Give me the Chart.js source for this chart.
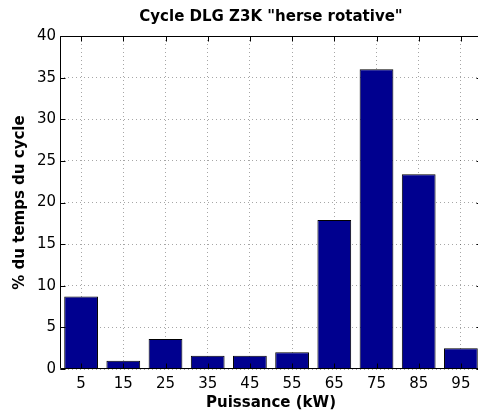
<!DOCTYPE html>
<html>
<head>
<meta charset="utf-8">
<script src="https://cdn.jsdelivr.net/npm/chart.js@4"></script>
<style>
  html, body { margin: 0; padding: 0; overflow: hidden; background: #fff; }
</style>
</head>
<body>
<canvas id="cycleChart" width="483" height="416"></canvas>
<script>
// Power classes (kW) and share of cycle time (%)
const powerLabels = ['5', '15', '25', '35', '45', '55', '65', '75', '85', '95'];
const cycleShare = [8.7, 1.0, 3.6, 1.6, 1.6, 2.0, 17.9, 36.0, 23.4, 2.5];
const yTicks = [0, 5, 10, 15, 20, 25, 30, 35, 40];

Chart.defaults.font.family = '"DejaVu Sans", sans-serif';
Chart.defaults.color = '#000';

// axes box with inward tick marks, drawn on top of the bars
const axesBox = {
    id: 'axesBox',
    afterDraw(chart) {
        const ctx = chart.ctx;
        const a = chart.chartArea;
        const xs = chart.scales.x;
        const ys = chart.scales.y;
        const L = Math.round(a.left) + 0.5, R = Math.round(a.right) - 0.5;
        const T = Math.round(a.top) + 0.5, B = Math.round(a.bottom) - 0.5;
        ctx.save();
        ctx.strokeStyle = '#000';
        ctx.lineWidth = 1;
        ctx.beginPath();
        ctx.rect(L, T, R - L, B - T);
        xs.ticks.forEach((t, i) => {
            const px = Math.round(xs.getPixelForTick(i)) + 0.5;
            ctx.moveTo(px, B); ctx.lineTo(px, B - 5);
            ctx.moveTo(px, T); ctx.lineTo(px, T + 5);
        });
        yTicks.forEach(v => {
            const py = Math.round(ys.getPixelForValue(v)) + 0.5;
            ctx.moveTo(L, py); ctx.lineTo(L + 5, py);
            ctx.moveTo(R, py); ctx.lineTo(R - 5, py);
        });
        ctx.stroke();
        ctx.restore();
    }
};

const ctx = document.getElementById('cycleChart').getContext('2d');
new Chart(ctx, {
    type: 'bar',
    data: {
        labels: powerLabels,
        datasets: [{
            data: cycleShare,
            backgroundColor: '#00008f',
            borderColor: '#000',
            borderWidth: 1,
            barPercentage: 0.8,
            categoryPercentage: 1.0
        }]
    },
    options: {
        responsive: false,
        animation: false,
        layout: { padding: { left: 0, right: 1, top: 0, bottom: 0 } },
        plugins: {
            legend: { display: false },
            tooltip: { enabled: false },
            title: {
                display: true,
                fullSize: false,
                text: 'Cycle DLG Z3K "herse rotative"',
                color: '#000',
                font: { size: 15, weight: 'bold' },
                padding: { top: 8, bottom: 10 }
            }
        },
        scales: {
            x: {
                offset: true,
                grid: {
                    offset: false,
                    color: 'rgba(0,0,0,0.35)',
                    drawTicks: false
                },
                border: { display: false, dash: [1, 3] },
                ticks: { padding: 6, font: { size: 15 }, maxRotation: 0 },
                title: {
                    display: true,
                    text: 'Puissance (kW)',
                    font: { size: 15, weight: 'bold' },
                    padding: { top: 0, bottom: 3.5 }
                },
                afterFit: scale => { scale.height = 47; }
            },
            y: {
                min: 0,
                max: 40,
                grid: {
                    color: 'rgba(0,0,0,0.35)',
                    drawTicks: false
                },
                border: { display: false, dash: [1, 3] },
                ticks: { stepSize: 5, padding: 4, font: { size: 15 } },
                title: {
                    display: true,
                    text: '% du temps du cycle',
                    font: { size: 15, weight: 'bold' },
                    padding: { top: 11.5, bottom: 0 }
                },
                afterFit: scale => { scale.width = 60; }
            }
        }
    },
    plugins: [axesBox]
});
</script>
</body>
</html>
